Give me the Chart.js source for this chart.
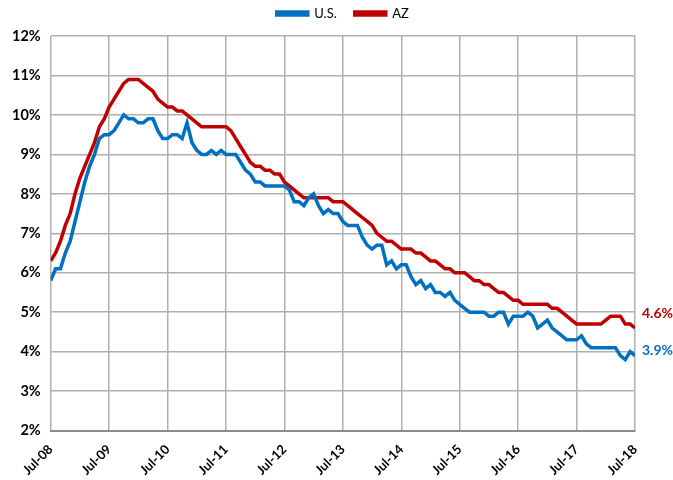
<!DOCTYPE html>
<html>
<head>
<meta charset="utf-8">
<script src="https://cdn.jsdelivr.net/npm/chart.js@4"></script>
<style>
  html, body { margin: 0; padding: 0; background: #fff; }
  #wrap { width: 673px; height: 480px; }
</style>
</head>
<body>
<div id="wrap"><canvas id="rateChart"></canvas></div>
<script>
// tick labels (one per July, every 12 months)
var yearLabels = ['Jul-08', 'Jul-09', 'Jul-10', 'Jul-11', 'Jul-12', 'Jul-13',
                  'Jul-14', 'Jul-15', 'Jul-16', 'Jul-17', 'Jul-18'];

// monthly unemployment rate, Jul-08 .. Jul-18 (121 months)
var usRate = [
    5.8, 6.1, 6.1, 6.5, 6.8, 7.3, 7.8, 8.3, 8.7, 9.0, 9.4, 9.5,
    9.5, 9.6, 9.8, 10.0, 9.9, 9.9, 9.8, 9.8, 9.9, 9.9, 9.6, 9.4,
    9.4, 9.5, 9.5, 9.4, 9.8, 9.3, 9.1, 9.0, 9.0, 9.1, 9.0, 9.1,
    9.0, 9.0, 9.0, 8.8, 8.6, 8.5, 8.3, 8.3, 8.2, 8.2, 8.2, 8.2,
    8.2, 8.1, 7.8, 7.8, 7.7, 7.9, 8.0, 7.7, 7.5, 7.6, 7.5, 7.5,
    7.3, 7.2, 7.2, 7.2, 6.9, 6.7, 6.6, 6.7, 6.7, 6.2, 6.3, 6.1,
    6.2, 6.2, 5.9, 5.7, 5.8, 5.6, 5.7, 5.5, 5.5, 5.4, 5.5, 5.3,
    5.2, 5.1, 5.0, 5.0, 5.0, 5.0, 4.9, 4.9, 5.0, 5.0, 4.7, 4.9,
    4.9, 4.9, 5.0, 4.9, 4.6, 4.7, 4.8, 4.6, 4.5, 4.4, 4.3, 4.3,
    4.3, 4.4, 4.2, 4.1, 4.1, 4.1, 4.1, 4.1, 4.1, 3.9, 3.8, 4.0,
    3.9
];
var azRate = [
    6.3, 6.5, 6.8, 7.2, 7.5, 8.0, 8.4, 8.7, 9.0, 9.3, 9.7, 9.9,
    10.2, 10.4, 10.6, 10.8, 10.9, 10.9, 10.9, 10.8, 10.7, 10.6, 10.4, 10.3,
    10.2, 10.2, 10.1, 10.1, 10.0, 9.9, 9.8, 9.7, 9.7, 9.7, 9.7, 9.7,
    9.7, 9.6, 9.4, 9.2, 9.0, 8.8, 8.7, 8.7, 8.6, 8.6, 8.5, 8.5,
    8.3, 8.2, 8.1, 8.0, 7.9, 7.9, 7.9, 7.9, 7.9, 7.9, 7.8, 7.8,
    7.8, 7.7, 7.6, 7.5, 7.4, 7.3, 7.2, 7.0, 6.9, 6.8, 6.8, 6.7,
    6.6, 6.6, 6.6, 6.5, 6.5, 6.4, 6.3, 6.3, 6.2, 6.1, 6.1, 6.0,
    6.0, 6.0, 5.9, 5.8, 5.8, 5.7, 5.7, 5.6, 5.5, 5.5, 5.4, 5.3,
    5.3, 5.2, 5.2, 5.2, 5.2, 5.2, 5.2, 5.1, 5.1, 5.0, 4.9, 4.8,
    4.7, 4.7, 4.7, 4.7, 4.7, 4.7, 4.8, 4.9, 4.9, 4.9, 4.7, 4.7,
    4.6
];

function toPoints(arr) {
    return arr.map(function (v, i) { return { x: i, y: v }; });
}

// room under the legend, and legend centred over the plot area
var legendGap = {
    id: 'legendGap',
    beforeInit: function (chart) {
        var fit = chart.legend.fit;
        chart.legend.fit = function () {
            fit.bind(chart.legend)();
            this.height += 6;
        };
    },
    afterLayout: function (chart) {
        var lg = chart.legend;
        var shift = (chart.chartArea.left + chart.chartArea.right) / 2 - (lg.left + lg.right) / 2;
        lg.left += shift;
        lg.right += shift;
    }
};

// writes the last value to the right of each line
var endLabels = {
    id: 'endLabels',
    afterDatasetsDraw: function (chart) {
        var ctx = chart.ctx;
        chart.data.datasets.forEach(function (ds, i) {
            var meta = chart.getDatasetMeta(i);
            var last = meta.data[meta.data.length - 1];
            var val = ds.data[ds.data.length - 1].y;
            ctx.save();
            ctx.font = 'bold 14px Lato';
            ctx.fillStyle = ds.borderColor;
            ctx.textAlign = 'left';
            ctx.textBaseline = 'middle';
            ctx.fillText(val.toFixed(1) + '%', last.x + 7, last.y + ds.labelShift);
            ctx.restore();
        });
    }
};

var ctx = document.getElementById('rateChart').getContext('2d');
var rateChart = new Chart(ctx, {
    type: 'line',
    data: {
        datasets: [{
            label: 'U.S.',
            data: toPoints(usRate),
            borderColor: '#0070C0',
            backgroundColor: '#0070C0',
            borderWidth: 3.5,
            pointRadius: 0,
            labelShift: -5,
            fill: false
        }, {
            label: 'AZ',
            data: toPoints(azRate),
            borderColor: '#C00000',
            backgroundColor: '#C00000',
            borderWidth: 3.5,
            pointRadius: 0,
            labelShift: -15,
            fill: false
        }]
    },
    plugins: [legendGap, endLabels],
    options: {
        responsive: true,
        maintainAspectRatio: false,
        animation: false,
        layout: { padding: { left: 2, right: 38, top: -11, bottom: -9 } },
        plugins: {
            legend: {
                position: 'top',
                labels: {
                    boxWidth: 31,
                    boxHeight: 3,
                    padding: 18,
                    color: '#000',
                    font: { family: 'Lato', size: 13 }
                }
            },
            tooltip: { enabled: false }
        },
        scales: {
            x: {
                type: 'linear',
                min: 0,
                max: 120,
                ticks: {
                    stepSize: 12,
                    autoSkip: false,
                    maxRotation: 45,
                    minRotation: 45,
                    padding: 11,
                    color: '#000',
                    font: { family: 'Lato', size: 13, weight: 'bold' },
                    callback: function (v) { return yearLabels[v / 12]; }
                },
                grid: { color: '#b0b0b0', lineWidth: 1.5, drawTicks: false },
                border: { color: '#8c8c8c', width: 2 }
            },
            y: {
                min: 2,
                max: 12,
                ticks: {
                    stepSize: 1,
                    padding: 10,
                    color: '#000',
                    font: { family: 'Lato', size: 14.5, weight: 'bold' },
                    callback: function (v) { return v + '%'; }
                },
                grid: { color: '#b0b0b0', lineWidth: 1.5, drawTicks: false },
                border: { display: false }
            }
        }
    }
});
</script>
</body>
</html>
